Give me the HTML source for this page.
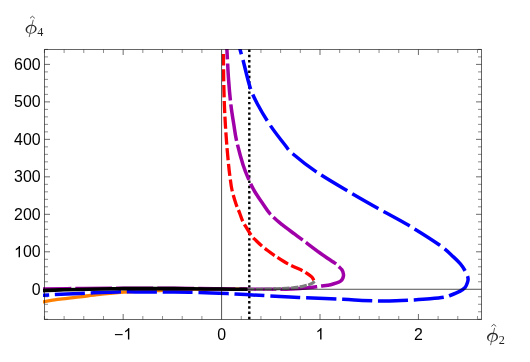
<!DOCTYPE html>
<html>
<head>
<meta charset="utf-8">
<title>Plot</title>
<style>
html,body{margin:0;padding:0;background:#fff;}
body{width:530px;height:362px;overflow:hidden;font-family:"Liberation Sans",sans-serif;}
svg{display:block;will-change:transform;}
.tl text{font-family:"Liberation Sans",sans-serif;font-size:15.9px;fill:#000;}
.ax text{font-family:"Liberation Serif",serif;fill:#222;}
</style>
</head>
<body>
<svg width="530" height="362" viewBox="0 0 530 362">
<defs>
<clipPath id="clip"><rect x="43" y="49.1" width="439.0" height="270.79999999999995"/></clipPath>
</defs>
<g fill="none" stroke="#000" stroke-width="1">
<path stroke-opacity="0.45" d="M44.42 319.5 v-3.5 M44.42 49.5 v3.5"/>
<path stroke-opacity="0.45" d="M64.11 319.5 v-3.5 M64.11 49.5 v3.5"/>
<path stroke-opacity="0.45" d="M83.79 319.5 v-3.5 M83.79 49.5 v3.5"/>
<path stroke-opacity="0.45" d="M103.48 319.5 v-3.5 M103.48 49.5 v3.5"/>
<path stroke-opacity="0.58" d="M123.16 319.5 v-5.5 M123.16 49.5 v5.5"/>
<path stroke-opacity="0.45" d="M142.84 319.5 v-3.5 M142.84 49.5 v3.5"/>
<path stroke-opacity="0.45" d="M162.53 319.5 v-3.5 M162.53 49.5 v3.5"/>
<path stroke-opacity="0.45" d="M182.21 319.5 v-3.5 M182.21 49.5 v3.5"/>
<path stroke-opacity="0.45" d="M201.90 319.5 v-3.5 M201.90 49.5 v3.5"/>
<path stroke-opacity="0.45" d="M241.26 319.5 v-3.5 M241.26 49.5 v3.5"/>
<path stroke-opacity="0.45" d="M260.95 319.5 v-3.5 M260.95 49.5 v3.5"/>
<path stroke-opacity="0.45" d="M280.63 319.5 v-3.5 M280.63 49.5 v3.5"/>
<path stroke-opacity="0.45" d="M300.32 319.5 v-3.5 M300.32 49.5 v3.5"/>
<path stroke-opacity="0.58" d="M320.00 319.5 v-5.5 M320.00 49.5 v5.5"/>
<path stroke-opacity="0.45" d="M339.68 319.5 v-3.5 M339.68 49.5 v3.5"/>
<path stroke-opacity="0.45" d="M359.37 319.5 v-3.5 M359.37 49.5 v3.5"/>
<path stroke-opacity="0.45" d="M379.05 319.5 v-3.5 M379.05 49.5 v3.5"/>
<path stroke-opacity="0.45" d="M398.74 319.5 v-3.5 M398.74 49.5 v3.5"/>
<path stroke-opacity="0.58" d="M418.42 319.5 v-5.5 M418.42 49.5 v5.5"/>
<path stroke-opacity="0.45" d="M438.10 319.5 v-3.5 M438.10 49.5 v3.5"/>
<path stroke-opacity="0.45" d="M457.79 319.5 v-3.5 M457.79 49.5 v3.5"/>
<path stroke-opacity="0.45" d="M477.47 319.5 v-3.5 M477.47 49.5 v3.5"/>
<path stroke-opacity="0.45" d="M44.5 319.26 h3.5 M481.5 319.26 h-3.5"/>
<path stroke-opacity="0.45" d="M44.5 311.77 h3.5 M481.5 311.77 h-3.5"/>
<path stroke-opacity="0.45" d="M44.5 304.27 h3.5 M481.5 304.27 h-3.5"/>
<path stroke-opacity="0.45" d="M44.5 296.78 h3.5 M481.5 296.78 h-3.5"/>
<path stroke-opacity="0.45" d="M44.5 281.78 h3.5 M481.5 281.78 h-3.5"/>
<path stroke-opacity="0.45" d="M44.5 274.29 h3.5 M481.5 274.29 h-3.5"/>
<path stroke-opacity="0.45" d="M44.5 266.79 h3.5 M481.5 266.79 h-3.5"/>
<path stroke-opacity="0.45" d="M44.5 259.30 h3.5 M481.5 259.30 h-3.5"/>
<path stroke-opacity="0.58" d="M44.5 251.80 h5.5 M481.5 251.80 h-5.5"/>
<path stroke-opacity="0.45" d="M44.5 244.30 h3.5 M481.5 244.30 h-3.5"/>
<path stroke-opacity="0.45" d="M44.5 236.81 h3.5 M481.5 236.81 h-3.5"/>
<path stroke-opacity="0.45" d="M44.5 229.31 h3.5 M481.5 229.31 h-3.5"/>
<path stroke-opacity="0.45" d="M44.5 221.82 h3.5 M481.5 221.82 h-3.5"/>
<path stroke-opacity="0.58" d="M44.5 214.32 h5.5 M481.5 214.32 h-5.5"/>
<path stroke-opacity="0.45" d="M44.5 206.82 h3.5 M481.5 206.82 h-3.5"/>
<path stroke-opacity="0.45" d="M44.5 199.33 h3.5 M481.5 199.33 h-3.5"/>
<path stroke-opacity="0.45" d="M44.5 191.83 h3.5 M481.5 191.83 h-3.5"/>
<path stroke-opacity="0.45" d="M44.5 184.34 h3.5 M481.5 184.34 h-3.5"/>
<path stroke-opacity="0.58" d="M44.5 176.84 h5.5 M481.5 176.84 h-5.5"/>
<path stroke-opacity="0.45" d="M44.5 169.34 h3.5 M481.5 169.34 h-3.5"/>
<path stroke-opacity="0.45" d="M44.5 161.85 h3.5 M481.5 161.85 h-3.5"/>
<path stroke-opacity="0.45" d="M44.5 154.35 h3.5 M481.5 154.35 h-3.5"/>
<path stroke-opacity="0.45" d="M44.5 146.86 h3.5 M481.5 146.86 h-3.5"/>
<path stroke-opacity="0.58" d="M44.5 139.36 h5.5 M481.5 139.36 h-5.5"/>
<path stroke-opacity="0.45" d="M44.5 131.86 h3.5 M481.5 131.86 h-3.5"/>
<path stroke-opacity="0.45" d="M44.5 124.37 h3.5 M481.5 124.37 h-3.5"/>
<path stroke-opacity="0.45" d="M44.5 116.87 h3.5 M481.5 116.87 h-3.5"/>
<path stroke-opacity="0.45" d="M44.5 109.38 h3.5 M481.5 109.38 h-3.5"/>
<path stroke-opacity="0.58" d="M44.5 101.88 h5.5 M481.5 101.88 h-5.5"/>
<path stroke-opacity="0.45" d="M44.5 94.38 h3.5 M481.5 94.38 h-3.5"/>
<path stroke-opacity="0.45" d="M44.5 86.89 h3.5 M481.5 86.89 h-3.5"/>
<path stroke-opacity="0.45" d="M44.5 79.39 h3.5 M481.5 79.39 h-3.5"/>
<path stroke-opacity="0.45" d="M44.5 71.90 h3.5 M481.5 71.90 h-3.5"/>
<path stroke-opacity="0.58" d="M44.5 64.40 h5.5 M481.5 64.40 h-5.5"/>
<path stroke-opacity="0.45" d="M44.5 56.90 h3.5 M481.5 56.90 h-3.5"/>
<path stroke-opacity="0.45" d="M44.5 49.41 h3.5 M481.5 49.41 h-3.5"/>
</g>
<g clip-path="url(#clip)" fill="none" stroke-linecap="butt" stroke-linejoin="round">
<path d="M249.3 49.5 V319.5" stroke="#000000" stroke-width="2.4" stroke-dasharray="2.45 2.79" stroke-dashoffset="0"/>
<path d="M38.00 302.70 C38.83 302.57 39.33 302.48 43.00 301.90 C46.67 301.32 53.83 300.05 60.00 299.20 C66.17 298.35 73.33 297.60 80.00 296.80 C86.67 296.00 92.58 295.18 100.00 294.40 C107.42 293.62 114.50 292.75 124.50 292.10 C134.50 291.45 147.42 290.98 160.00 290.50 C172.58 290.02 185.50 289.40 200.00 289.20 C214.50 289.00 239.17 289.28 247.00 289.30" stroke="#ff8000" stroke-width="3.3"/>
<path d="M238.90 44.00 C239.08 44.90 239.32 46.73 240.00 49.40 C240.68 52.07 241.28 53.57 243.00 60.00 C244.72 66.43 247.80 80.50 250.30 88.00 C252.80 95.50 254.72 98.83 258.00 105.00 C261.28 111.17 265.50 118.33 270.00 125.00 C274.50 131.67 281.17 140.17 285.00 145.00 C288.83 149.83 287.83 149.57 293.00 154.00 C298.17 158.43 307.00 165.50 316.00 171.60 C325.00 177.70 336.63 184.45 347.00 190.60 C357.37 196.75 367.85 202.67 378.20 208.50 C388.55 214.33 398.88 219.52 409.10 225.60 C419.32 231.68 432.12 239.78 439.50 245.00 C446.88 250.22 449.92 253.75 453.40 256.90 C456.88 260.05 458.53 261.72 460.40 263.90 C462.27 266.08 463.45 268.05 464.60 270.00 C465.75 271.95 466.72 274.10 467.30 275.60 C467.88 277.10 468.05 277.93 468.10 279.00 C468.15 280.07 468.08 280.62 467.60 282.00 C467.12 283.38 466.52 285.73 465.20 287.30 C463.88 288.87 462.23 290.03 459.70 291.40 C457.17 292.77 452.62 294.52 450.00 295.50 C447.38 296.48 447.33 296.75 444.00 297.30 C440.67 297.85 435.00 298.37 430.00 298.80 C425.00 299.23 419.67 299.57 414.00 299.90 C408.33 300.23 401.67 300.62 396.00 300.80 C390.33 300.98 385.67 301.07 380.00 301.00 C374.33 300.93 368.17 300.68 362.00 300.40 C355.83 300.12 352.33 299.73 343.00 299.30 C333.67 298.87 314.83 298.18 306.00 297.80 C297.17 297.42 300.00 297.53 290.00 297.00 C280.00 296.47 256.33 295.17 246.00 294.60 C235.67 294.03 235.75 293.95 228.00 293.60 C220.25 293.25 208.50 292.75 199.50 292.50 C190.50 292.25 184.58 292.20 174.00 292.10 C163.42 292.00 145.33 291.93 136.00 291.90 C126.67 291.87 127.33 291.65 118.00 291.90 C108.67 292.15 92.50 292.85 80.00 293.40 C67.50 293.95 50.00 294.85 43.00 295.20 C36.00 295.55 38.83 295.45 38.00 295.50" stroke="#0000ff" stroke-width="3.5" stroke-dasharray="30.1 5.8" stroke-dashoffset="19.4"/>
<path d="M226.60 44.00 C226.65 44.90 226.57 43.40 226.90 49.40 C227.23 55.40 227.93 70.73 228.60 80.00 C229.27 89.27 230.02 97.50 230.90 105.00 C231.78 112.50 232.95 119.00 233.90 125.00 C234.85 131.00 235.07 134.33 236.60 141.00 C238.13 147.67 241.03 158.50 243.10 165.00 C245.17 171.50 247.02 175.50 249.00 180.00 C250.98 184.50 252.67 188.00 255.00 192.00 C257.33 196.00 260.42 200.27 263.00 204.00 C265.58 207.73 267.27 210.92 270.50 214.40 C273.73 217.88 278.42 221.65 282.40 224.90 C286.38 228.15 291.05 231.40 294.40 233.90 C297.75 236.40 298.23 236.72 302.50 239.90 C306.77 243.08 314.45 249.03 320.00 253.00 C325.55 256.97 332.75 261.50 335.80 263.70 C338.85 265.90 337.28 265.18 338.30 266.20 C339.32 267.22 341.03 268.43 341.90 269.80 C342.77 271.17 343.33 273.03 343.50 274.40 C343.67 275.77 343.33 276.93 342.90 278.00 C342.47 279.07 342.05 279.95 340.90 280.80 C339.75 281.65 337.70 282.45 336.00 283.10 C334.30 283.75 333.20 284.20 330.70 284.70 C328.20 285.20 323.17 285.78 321.00 286.10 C318.83 286.42 319.50 286.35 317.70 286.60 C315.90 286.85 313.15 287.28 310.20 287.60 C307.25 287.92 303.15 288.27 300.00 288.50 C296.85 288.73 294.25 288.87 291.30 289.00 C288.35 289.13 285.85 289.25 282.30 289.30 C278.75 289.35 275.55 289.32 270.00 289.30 C264.45 289.28 255.33 289.27 249.00 289.20 C242.67 289.13 244.50 289.05 232.00 288.90 C219.50 288.75 193.00 288.40 174.00 288.30 C155.00 288.20 134.00 288.27 118.00 288.30 C102.00 288.33 90.50 288.37 78.00 288.50 C65.50 288.63 49.67 288.98 43.00 289.10 C36.33 289.22 38.83 289.18 38.00 289.20" stroke="#a000a8" stroke-width="3.5" stroke-dasharray="37 4" stroke-dashoffset="21.5"/>
<path d="M223.40 54.00 C223.45 58.33 223.53 71.50 223.70 80.00 C223.87 88.50 224.12 97.50 224.40 105.00 C224.68 112.50 225.00 118.33 225.40 125.00 C225.80 131.67 226.27 138.33 226.80 145.00 C227.33 151.67 228.07 159.67 228.60 165.00 C229.13 170.33 229.43 172.83 230.00 177.00 C230.57 181.17 231.00 185.50 232.00 190.00 C233.00 194.50 234.75 200.23 236.00 204.00 C237.25 207.77 238.47 209.93 239.50 212.60 C240.53 215.27 241.15 217.65 242.20 220.00 C243.25 222.35 244.23 224.07 245.80 226.70 C247.37 229.33 249.90 233.50 251.60 235.80 C253.30 238.10 254.33 238.85 256.00 240.50 C257.67 242.15 259.60 243.98 261.60 245.70 C263.60 247.42 265.80 249.15 268.00 250.80 C270.20 252.45 271.47 253.42 274.80 255.60 C278.13 257.78 283.45 261.42 288.00 263.90 C292.55 266.38 299.00 268.95 302.10 270.50 C305.20 272.05 305.18 272.27 306.60 273.20 C308.02 274.13 309.55 275.23 310.60 276.10 C311.65 276.97 312.37 277.68 312.90 278.40 C313.43 279.12 313.65 280.07 313.80 280.40" stroke="#ff0000" stroke-width="3.3" stroke-dasharray="12.2 3.6" stroke-dashoffset="0.6"/>
<path d="M314.70 281.50 C314.33 281.77 313.45 282.58 312.50 283.10 C311.55 283.62 310.42 284.12 309.00 284.60 C307.58 285.08 305.50 285.62 304.00 286.00 C302.50 286.38 302.12 286.57 300.00 286.90 C297.88 287.23 294.30 287.72 291.30 288.00 C288.30 288.28 285.55 288.43 282.00 288.60 C278.45 288.77 273.67 288.90 270.00 289.00 C266.33 289.10 263.75 289.15 260.00 289.20 C256.25 289.25 249.58 289.28 247.50 289.30" stroke="#7c7c7c" stroke-width="3.1" stroke-dasharray="7.5 1.3"/>
<path d="M38.00 290.80 C38.83 290.77 39.33 290.75 43.00 290.60 C46.67 290.45 54.17 290.08 60.00 289.90 C65.83 289.72 71.33 289.65 78.00 289.50 C84.67 289.35 93.33 289.13 100.00 289.00 C106.67 288.87 112.00 288.77 118.00 288.70 C124.00 288.63 126.67 288.62 136.00 288.60 C145.33 288.58 164.67 288.57 174.00 288.60 C183.33 288.63 185.67 288.73 192.00 288.80 C198.33 288.87 205.33 288.93 212.00 289.00 C218.67 289.07 226.08 289.15 232.00 289.20 C237.92 289.25 244.92 289.28 247.50 289.30" stroke="#000000" stroke-width="3.6"/>
</g>
<g fill="none" stroke="#000" stroke-opacity="0.68" stroke-width="1">
<path d="M221.58 49.5 V319.5"/>
<path d="M44.5 289.28 H481.5"/>
</g>
<rect x="44.5" y="49.5" width="437.0" height="270.0" fill="none" stroke="#000" stroke-opacity="0.6" stroke-width="1"/>
<g class="tl">
<text x="114.12" y="339.50">−</text>
<path transform="translate(123.40 339.50) scale(0.00776 -0.00776)" d="M763 0H583V1147Q518 1085 412.5 1023Q307 961 223 930V1104Q374 1175 487 1276Q600 1377 647 1472H763Z" fill="#000"/>
<text x="217.18" y="339.50">0</text>
<path transform="translate(315.60 339.50) scale(0.00776 -0.00776)" d="M763 0H583V1147Q518 1085 412.5 1023Q307 961 223 930V1104Q374 1175 487 1276Q600 1377 647 1472H763Z" fill="#000"/>
<text x="414.02" y="339.50">2</text>
<text x="31.76" y="294.85">0</text>
<path transform="translate(14.08 257.37) scale(0.00776 -0.00776)" d="M763 0H583V1147Q518 1085 412.5 1023Q307 961 223 930V1104Q374 1175 487 1276Q600 1377 647 1472H763Z" fill="#000"/>
<text x="22.92" y="257.37">00</text>
<text x="14.08" y="219.89">200</text>
<text x="14.08" y="182.41">300</text>
<text x="14.08" y="144.93">400</text>
<text x="14.08" y="107.45">500</text>
<text x="14.08" y="69.97">600</text>
</g>
<g class="ax">
<g transform="translate(31.1 28.7)">
<path transform="translate(0 0.45) scale(1 1.11)" fill="#2a2a2a" fill-rule="evenodd" stroke="none" d="M0 0 m-5.5 0.5 c0-2.6 2.9-4.5 6-4.5 c3 0 5 1.5 5 3.6 c0 2.6-2.9 4.4-6 4.4 c-3 0-5-1.4-5-3.5z m1.5 0.3 c0 1.6 1.4 2.7 3.4 2.7 c2.6 0 4.6-1.8 4.6-3.9 c0-1.6-1.3-2.6-3.3-2.6 c-2.6 0-4.7 1.8-4.7 3.8z"/>
<path fill="none" stroke="#2a2a2a" stroke-width="0.75" stroke-linecap="round" d="M2.05-8.5 L-1.85 8"/>
<path fill="none" stroke="#2a2a2a" stroke-width="0.8" stroke-linecap="round" stroke-linejoin="miter" d="M-0.8-10.65 L1.3-12.45 L3.4-10.65"/>
</g>
<text x="37.3" y="35.6" font-size="12.2">4</text>
<g transform="translate(492.5 336.8)">
<path transform="translate(0 0.45) scale(1 1.11)" fill="#2a2a2a" fill-rule="evenodd" stroke="none" d="M0 0 m-5.5 0.5 c0-2.6 2.9-4.5 6-4.5 c3 0 5 1.5 5 3.6 c0 2.6-2.9 4.4-6 4.4 c-3 0-5-1.4-5-3.5z m1.5 0.3 c0 1.6 1.4 2.7 3.4 2.7 c2.6 0 4.6-1.8 4.6-3.9 c0-1.6-1.3-2.6-3.3-2.6 c-2.6 0-4.7 1.8-4.7 3.8z"/>
<path fill="none" stroke="#2a2a2a" stroke-width="0.75" stroke-linecap="round" d="M2.05-8.5 L-1.85 8"/>
<path fill="none" stroke="#2a2a2a" stroke-width="0.8" stroke-linecap="round" stroke-linejoin="miter" d="M-0.8-10.65 L1.3-12.45 L3.4-10.65"/>
</g>
<text x="498.7" y="343.5" font-size="12.2">2</text>
</g>
</svg>
</body>
</html>
